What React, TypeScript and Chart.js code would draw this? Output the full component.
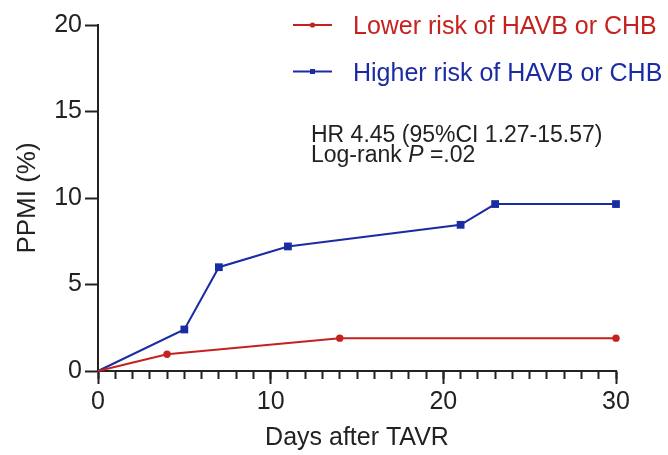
import React, { useEffect, useRef } from "react";
import { Chart, registerables } from "chart.js";

Chart.register(...registerables);

const lowerDays = [0, 4, 14, 30];
const lowerPPMI = [0, 0.97, 1.9, 1.9];
const higherDays = [0, 5, 7, 11, 21, 23, 30];
const higherPPMI = [0, 2.4, 6.0, 7.2, 8.45, 9.65, 9.65];
const seriesLabels = ["Lower risk of HAVB or CHB", "Higher risk of HAVB or CHB"];
const xTitle = "Days after TAVR";
const yTitle = "PPMI (%)";
const hrText = "HR 4.45 (95%CI 1.27-15.57)";
const logRankParts = ["Log-rank ", "P", " =.02"];

const RED = "#c4221f";
const BLUE = "#1b2ca3";
const INK = "#222222";
const FONT = "'Liberation Sans', Arial, sans-serif";

const overlayPlugin = {
  id: "overlay",
  afterDatasetsDraw(chart: any) {
    const ctx = chart.ctx;
    ctx.save();
    chart.data.datasets.forEach((ds: any, i: number) => {
      const ly = 25 + i * 46.5;
      ctx.strokeStyle = ds.borderColor;
      ctx.lineWidth = 2;
      ctx.beginPath();
      ctx.moveTo(293, ly);
      ctx.lineTo(332, ly);
      ctx.stroke();
      ctx.fillStyle = ds.borderColor;
      if (ds.pointStyle === "rect") {
        ctx.fillRect(310, ly - 2.5, 5, 5);
      } else {
        ctx.beginPath();
        ctx.arc(312.5, ly, 2.6, 0, Math.PI * 2);
        ctx.fill();
      }
      ctx.font = `25px ${FONT}`;
      ctx.textBaseline = "alphabetic";
      ctx.textAlign = "left";
      ctx.fillText(ds.label, 353, ly + 9.3);
    });
    ctx.fillStyle = INK;
    ctx.font = `23px ${FONT}`;
    ctx.textBaseline = "alphabetic";
    ctx.textAlign = "left";
    ctx.fillText(hrText, 311, 141.5);
    let x = 311;
    logRankParts.forEach((part, i) => {
      ctx.font = i === 1 ? `italic 23px ${FONT}` : `23px ${FONT}`;
      ctx.fillText(part, x, 162);
      x += ctx.measureText(part).width;
    });
    ctx.restore();
  },
};

export default function App() {
  const canvasRef = useRef<HTMLCanvasElement | null>(null);

  useEffect(() => {
    if (!canvasRef.current) return;
    const pointR = (r: number) => (c: any) => (c.dataIndex === 0 ? 0 : r);
    const chart = new Chart(canvasRef.current, {
      type: "line",
      data: {
        datasets: [
          {
            label: seriesLabels[0],
            data: lowerDays.map((d, i) => ({ x: d, y: lowerPPMI[i] })),
            borderColor: RED,
            backgroundColor: RED,
            borderWidth: 2,
            pointStyle: "circle",
            pointRadius: pointR(3.7),
            pointBorderWidth: 0,
            tension: 0,
            clip: false,
          },
          {
            label: seriesLabels[1],
            data: higherDays.map((d, i) => ({ x: d, y: higherPPMI[i] })),
            borderColor: BLUE,
            backgroundColor: BLUE,
            borderWidth: 2,
            pointStyle: "rect",
            pointRadius: pointR(5.5),
            pointBorderWidth: 0,
            tension: 0,
            clip: false,
          },
        ],
      },
      options: {
        animation: false,
        responsive: true,
        maintainAspectRatio: false,
        layout: { padding: { top: 25, right: 52, left: 0, bottom: 0 } },
        plugins: { legend: { display: false }, tooltip: { enabled: false } },
        scales: {
          xMinor: {
            type: "linear",
            position: "bottom",
            weight: 0,
            min: 0,
            max: 30,
            ticks: { display: false, stepSize: 1 },
            grid: {
              drawOnChartArea: false,
              drawTicks: true,
              tickLength: 8,
              tickWidth: 2,
              tickColor: INK,
              color: INK,
            },
            border: { display: false },
            afterFit: (s: any) => {
              s.height = 0;
            },
          },
          x: {
            type: "linear",
            position: "bottom",
            weight: 1,
            min: 0,
            max: 30,
            ticks: {
              stepSize: 10,
              color: INK,
              padding: 3,
              maxRotation: 0,
              font: { family: FONT, size: 25 },
            },
            grid: {
              drawOnChartArea: false,
              drawTicks: true,
              tickLength: 13,
              tickWidth: 2,
              tickColor: INK,
              color: INK,
            },
            border: { display: true, color: INK, width: 2 },
            title: {
              display: true,
              text: xTitle,
              color: INK,
              font: { family: FONT, size: 25 },
              padding: { top: 0, bottom: 2 },
            },
            afterFit: (s: any) => {
              s.height = 84;
            },
          },
          y: {
            type: "linear",
            position: "left",
            min: 0,
            max: 20,
            ticks: {
              stepSize: 5,
              color: INK,
              padding: 3,
              font: { family: FONT, size: 25 },
            },
            grid: {
              drawOnChartArea: false,
              drawTicks: true,
              tickLength: 13,
              tickWidth: 2,
              tickColor: INK,
              color: INK,
            },
            border: { display: true, color: INK, width: 2 },
            title: {
              display: true,
              text: yTitle,
              color: INK,
              font: { family: FONT, size: 26 },
              padding: { top: 12, bottom: 0 },
            },
            afterFit: (s: any) => {
              s.width = 98;
            },
          },
        },
      },
      plugins: [overlayPlugin],
    } as any);
    return () => chart.destroy();
  }, []);

  return (
    <div style={{ position: "fixed", left: 0, top: 0, width: 668, height: 455, background: "#fff" }}>
      <canvas ref={canvasRef} />
    </div>
  );
}
